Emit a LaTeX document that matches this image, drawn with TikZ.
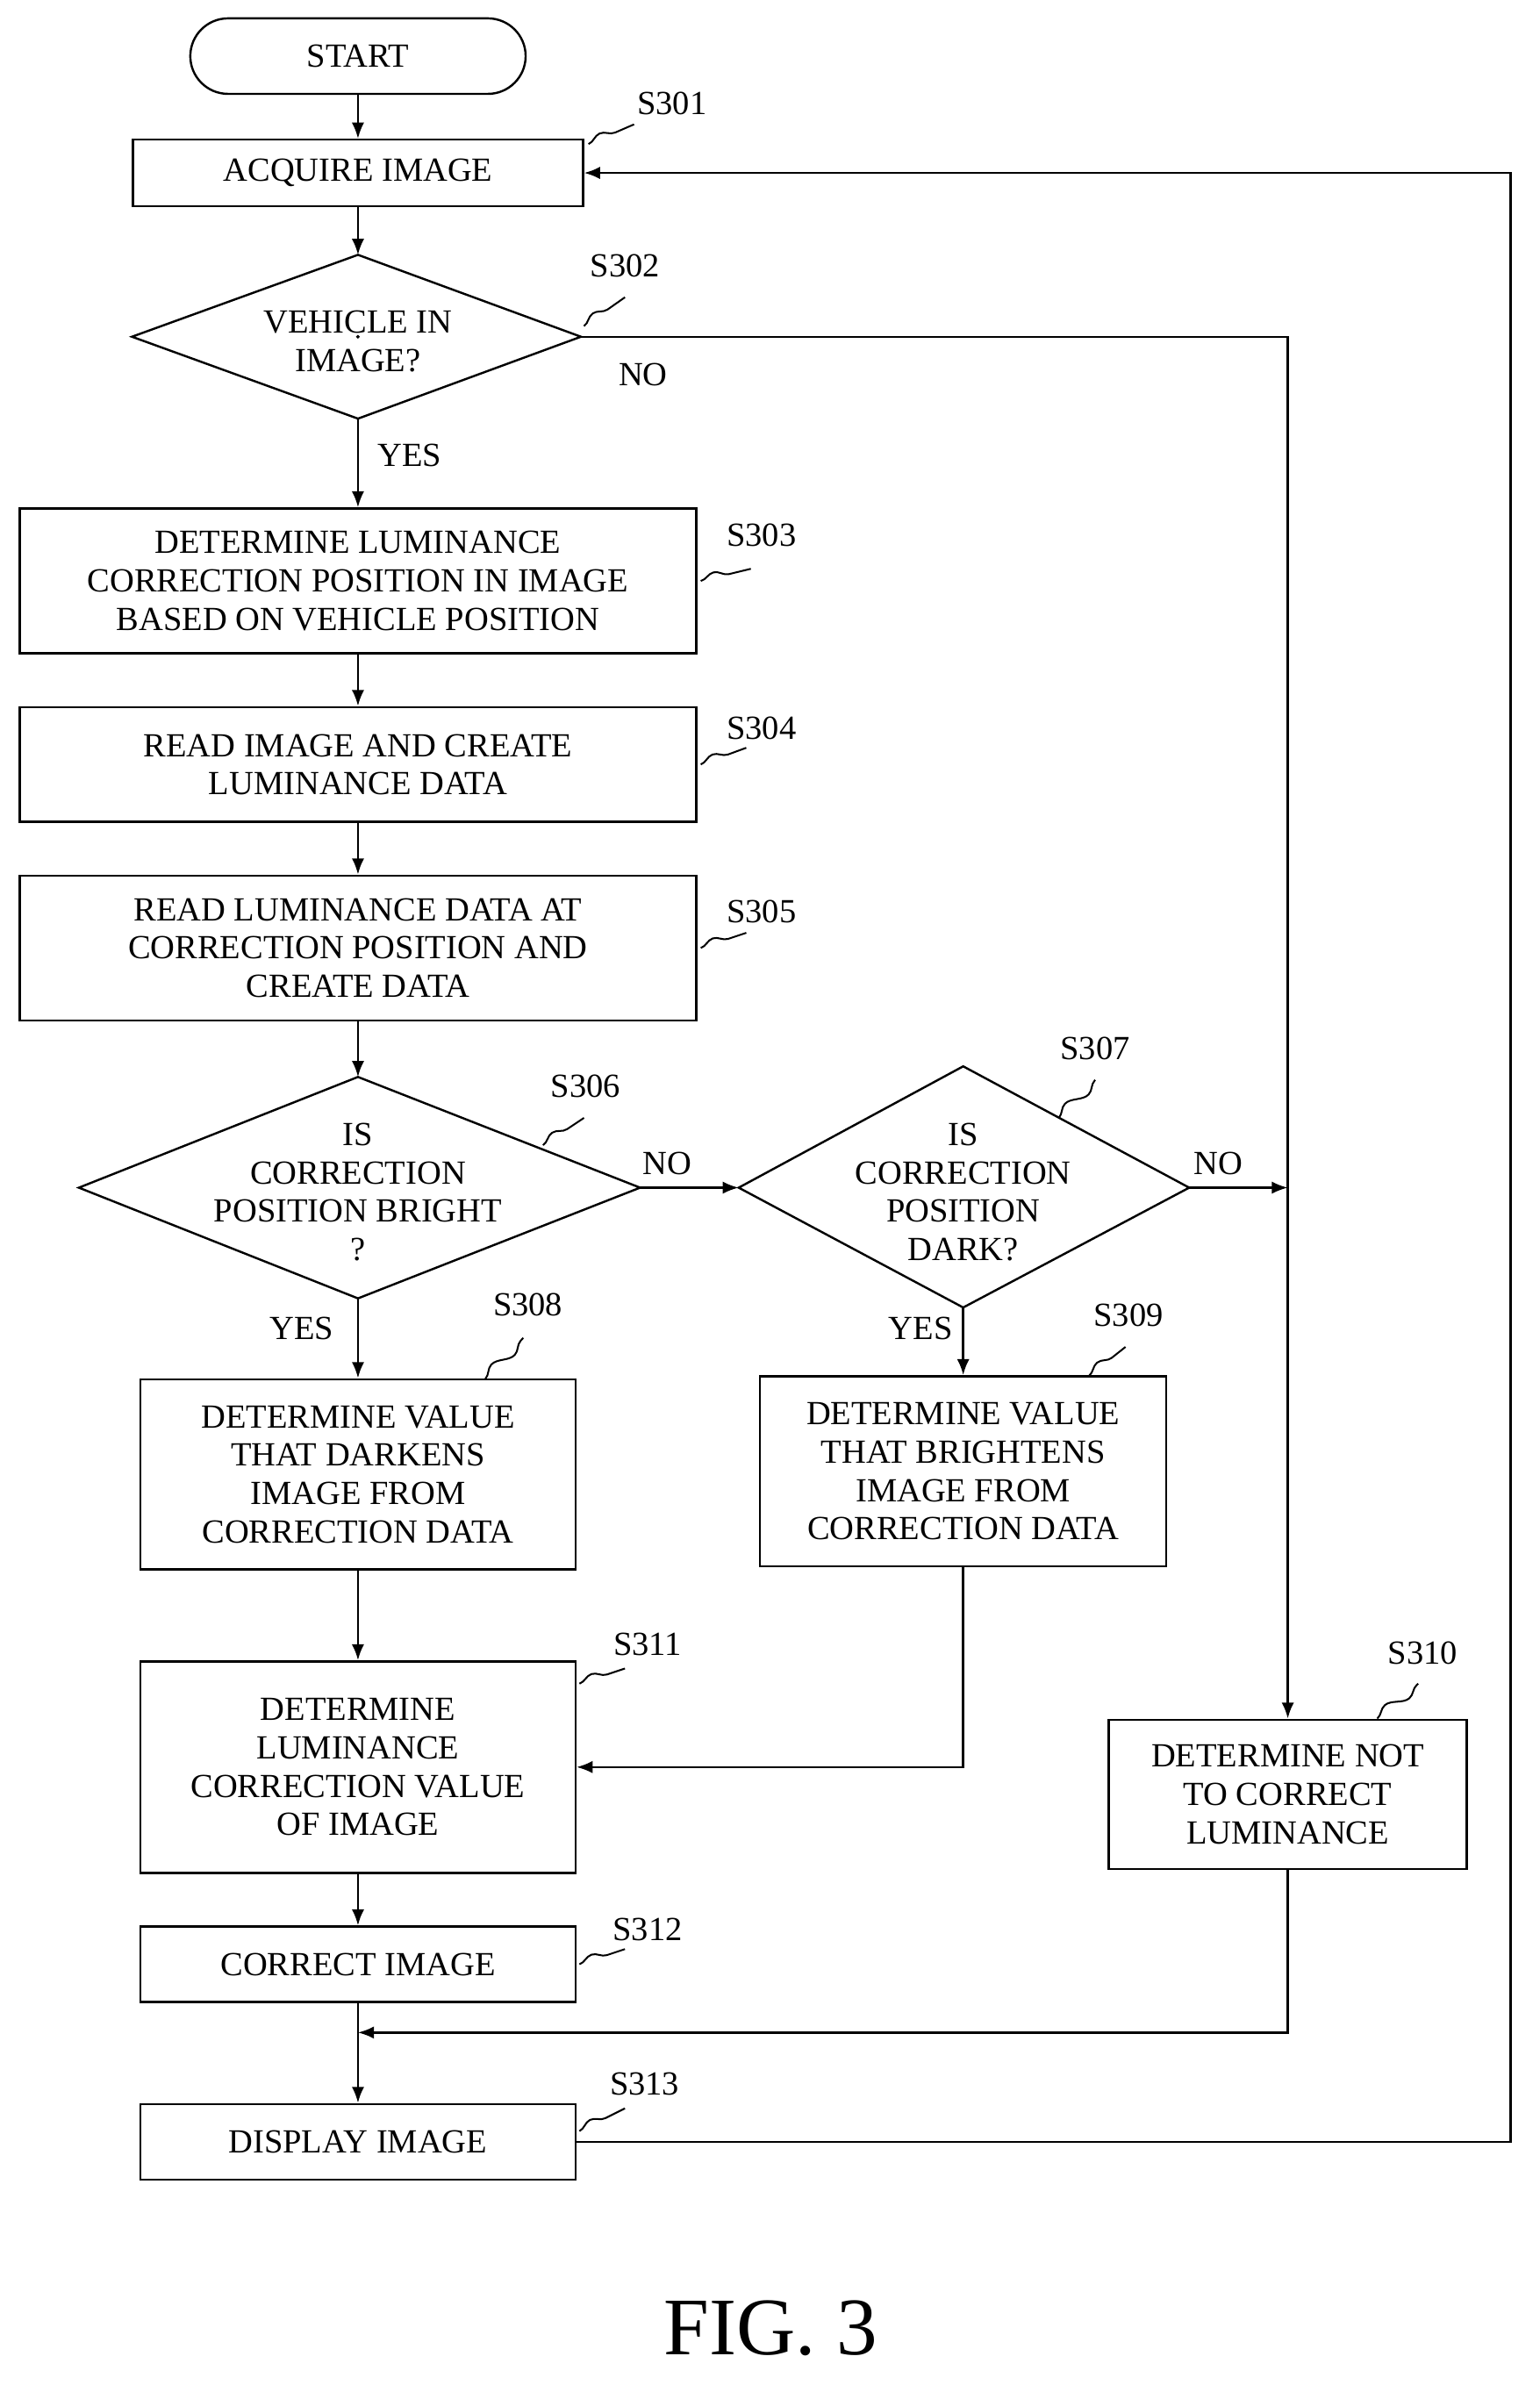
\documentclass[tikz,border=0pt]{standalone}
\usepackage{fontspec}
\setmainfont{Liberation Serif}
\usetikzlibrary{shapes.geometric,decorations.pathmorphing,arrows.meta}
\begin{document}
\begin{tikzpicture}[x=0.03cm,y=-0.03cm,
  every node/.style={font=\fontsize{19}{21.5}\selectfont},
  box/.style={draw,line width=1.2pt,align=center,inner sep=0pt},
  dia/.style={draw,line width=1.2pt,diamond,align=center,inner sep=0pt},
  line/.style={line width=1.2pt},
  arr/.style={line width=1.2pt,-{Latex[length=9pt,width=7pt]}},
  sq/.style={line width=1pt,decorate,decoration={snake,segment length=26pt,amplitude=3pt}},
  lab/.style={inner sep=0pt}]
\useasboundingbox (0,0) rectangle (1015,1577);
\node[box,rounded corners=25*0.85pt,minimum width=222*0.85pt,minimum height=50*0.85pt] (start) at (236,37) {START};
\node[box,minimum width=298*0.85pt,minimum height=44*0.85pt] (s301) at (236,114) {ACQUIRE IMAGE};
\node[dia,minimum width=0pt] (s302) at (236,222) {};
\draw[line width=1.2pt] (87,222)--(236,168)--(383,222)--(236,276)--cycle;
\node at (236,225) [align=center] {VEHICLE IN\\IMAGE?};
\node[box,minimum width=448*0.85pt,minimum height=96*0.85pt] (s303) at (236,383) {DETERMINE LUMINANCE\\CORRECTION POSITION IN IMAGE\\BASED ON VEHICLE POSITION};
\node[box,minimum width=448*0.85pt,minimum height=76*0.85pt] (s304) at (236,504) {READ IMAGE AND CREATE\\LUMINANCE DATA};
\node[box,minimum width=448*0.85pt,minimum height=96*0.85pt] (s305) at (236,625) {READ LUMINANCE DATA AT\\CORRECTION POSITION AND\\CREATE DATA};
\draw[line width=1.2pt] (52,783)--(236,710)--(422,783)--(236,856)--cycle;
\node at (236,786) [align=center] {IS\\CORRECTION\\POSITION BRIGHT\\?};
\draw[line width=1.2pt] (487,783)--(635,703)--(784,783)--(635,862)--cycle;
\node at (635,786) [align=center] {IS\\CORRECTION\\POSITION\\DARK?};
\node[box,minimum width=288*0.85pt,minimum height=126*0.85pt] (s308) at (236,972) {DETERMINE VALUE\\THAT DARKENS\\IMAGE FROM\\CORRECTION DATA};
\node[box,minimum width=269*0.85pt,minimum height=126*0.85pt] (s309) at (635,970) {DETERMINE VALUE\\THAT BRIGHTENS\\IMAGE FROM\\CORRECTION DATA};
\node[box,minimum width=288*0.85pt,minimum height=140*0.85pt] (s311) at (236,1165) {DETERMINE\\LUMINANCE\\CORRECTION VALUE\\OF IMAGE};
\node[box,minimum width=237*0.85pt,minimum height=99*0.85pt] (s310) at (849,1183) {DETERMINE NOT\\TO CORRECT\\LUMINANCE};
\node[box,minimum width=288*0.85pt,minimum height=50*0.85pt] (s312) at (236,1295) {CORRECT IMAGE};
\node[box,minimum width=288*0.85pt,minimum height=50*0.85pt] (s313) at (236,1412) {DISPLAY IMAGE};
\node at (508,1535) {\fontsize{46}{50}\selectfont FIG. 3};
% connectors
\coordinate (d2t) at (236,168); \coordinate (d2b) at (236,276); \coordinate (d2r) at (383,222);
\coordinate (d6t) at (236,710); \coordinate (d6b) at (236,856); \coordinate (d6r) at (422,783);
\coordinate (d7l) at (487,783); \coordinate (d7b) at (635,862); \coordinate (d7r) at (784,783);
\coordinate (j1) at (849,783); \coordinate (j2) at (236,1340);
\draw[arr] (start)--(s301);
\draw[arr] (s301)--(d2t);
\draw[arr] (d2b)--(s303);
\draw[arr] (s303)--(s304);
\draw[arr] (s304)--(s305);
\draw[arr] (s305)--(d6t);
\draw[arr] (d6b)--(s308);
\draw[arr] (d6r)--(d7l);
\draw[arr] (d7b)--(s309.north);
\draw[arr] (d7r)--(j1);
\draw[arr] (d2r)-|(s310.north);
\draw[arr] (s308)--(s311);
\draw[arr] (s309.south)|-(s311.east);
\draw[arr] (s311)--(s312);
\draw[arr] (s312)--(s313);
\draw[arr] (s310.south)|-(j2);
\draw[arr] (s313.east)-|(996,114)--(s301.east);
% labels
\node at (424,247) {NO};
\node at (270,300) {YES};
\node at (440,767) {NO};
\node at (199,876) {YES};
\node at (803,767) {NO};
\node at (607,876) {YES};
\node at (443,68) {S301};
\node at (412,175) {S302};
\node at (502,353) {S303};
\node at (502,480) {S304};
\node at (502,601) {S305};
\node at (386,716) {S306};
\node at (722,691) {S307};
\node at (348,860) {S308};
\node at (744,867) {S309};
\node at (938,1090) {S310};
\node at (427,1084) {S311};
\node at (427,1272) {S312};
\node at (425,1374) {S313};
\draw[sq] (388,95)--(418,82);
\draw[sq] (385,215)--(412,196);
\draw[sq] (462,383)--(495,375);
\draw[sq] (462,504)--(492,493);
\draw[sq] (462,625)--(492,615);
\draw[sq] (358,755)--(385,737);
\draw[sq] (698,737)--(722,712);
\draw[sq] (320,909)--(345,882);
\draw[sq] (718,907)--(742,888);
\draw[sq] (908,1133)--(935,1110);
\draw[sq] (382,1110)--(412,1100);
\draw[sq] (382,1295)--(412,1285);
\draw[sq] (382,1405)--(412,1390);
\end{tikzpicture}
\end{document}
